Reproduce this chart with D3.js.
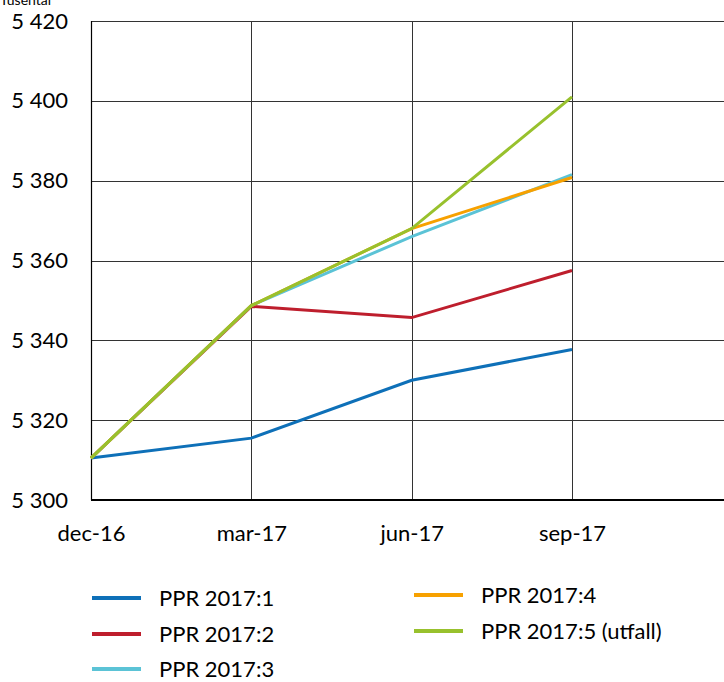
<!DOCTYPE html>
<html><head><meta charset="utf-8">
<script src="https://cdn.jsdelivr.net/npm/d3@7"></script>
<style>body{margin:0;background:#fff}svg{display:block}text{font-family:Lato,"Open Sans",sans-serif;fill:#000}</style>
</head><body><svg id="c" width="724" height="682"></svg>
<script>
const categories = ["dec-16","mar-17","jun-17","sep-17"];
const yTicks = [5300,5320,5340,5360,5380,5400,5420];
const yTickLabels = ["5 300","5 320","5 340","5 360","5 380","5 400","5 420"];
const seriesNames = ["PPR 2017:1","PPR 2017:2","PPR 2017:3","PPR 2017:4","PPR 2017:5 (utfall)"];
const seriesColors = ["#0e70b8","#be1e2d","#5bc3d6","#f7a100","#98c12d"];
const ppr1 = [5310.5,5315.5,5330.0,5337.7];
const ppr2 = [5310.5,5348.5,5345.7,5357.5];
const ppr3 = [5310.5,5348.7,5366.0,5381.5];
const ppr4 = [5310.5,5348.7,5368.0,5380.8];
const ppr5 = [5310.5,5348.7,5368.0,5401.0];
const allSeries = [ppr1,ppr2,ppr3,ppr4,ppr5];

(function(){
const svg = d3.select("#c");
const mL = 91, mT = 21, mB = 500, mR = 724;
const x = d3.scalePoint().domain(categories).range([mL, 572]);
const y = d3.scaleLinear().domain([5300,5420]).range([mB, mT]);

svg.append("text").attr("x",0).attr("y",5).attr("font-size",14).text("Tusental");

svg.append("g").selectAll("line").data(yTicks.slice(1)).join("line")
  .attr("x1",mL).attr("x2",mR)
  .attr("y1",d=>Math.round(y(d))+0.5).attr("y2",d=>Math.round(y(d))+0.5)
  .attr("stroke","#333").attr("stroke-width",1);
svg.append("g").selectAll("line").data(categories.slice(1)).join("line")
  .attr("x1",d=>Math.round(x(d))+0.5).attr("x2",d=>Math.round(x(d))+0.5)
  .attr("y1",mT).attr("y2",mB)
  .attr("stroke","#333").attr("stroke-width",1);

const yAxis = d3.axisLeft(y).tickValues(yTicks).tickFormat((d,i)=>yTickLabels[i]).tickSize(0).tickPadding(23);
const gy = svg.append("g").attr("transform",`translate(${mL},0)`).call(yAxis);
gy.select(".domain").remove();
gy.selectAll("text").attr("font-size",22).attr("font-family","Lato, 'Open Sans', sans-serif");
svg.append("line").attr("x1",mL+0.5).attr("x2",mL+0.5).attr("y1",mT).attr("y2",mB).attr("stroke","#000").attr("stroke-width",1.2);

const xAxis = d3.axisBottom(x).tickSize(0).tickPadding(25);
const gx = svg.append("g").attr("transform",`translate(0,${mB})`).call(xAxis);
gx.select(".domain").remove();
gx.selectAll("text").attr("font-size",22).attr("font-family","Lato, 'Open Sans', sans-serif");
svg.append("line").attr("x1",mL).attr("x2",mR).attr("y1",mB).attr("y2",mB).attr("stroke","#000").attr("stroke-width",2);

const line = d3.line().x((d,i)=>x(categories[i])).y(d=>y(d));
allSeries.forEach((s,i)=>{
  svg.append("path").datum(s).attr("d",line).attr("fill","none")
    .attr("stroke",seriesColors[i]).attr("stroke-width",3).attr("stroke-linejoin","miter");
});

const legPos = [[92,598],[92,634],[92,669],[414,595],[414,631]];
seriesNames.forEach((n,i)=>{
  const [lx,ly] = legPos[i];
  svg.append("line").attr("x1",lx).attr("x2",lx+49).attr("y1",ly).attr("y2",ly)
    .attr("stroke",seriesColors[i]).attr("stroke-width",4);
  svg.append("text").attr("x",lx+67).attr("y",ly).attr("dy","0.35em").attr("font-size",22).text(n);
});
})();
</script></body></html>
